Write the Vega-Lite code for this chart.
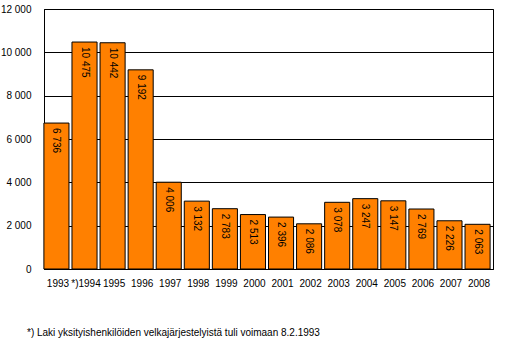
{
  "$schema": "https://vega.github.io/schema/vega-lite/v6.json",
  "width": 449,
  "height": 260,
  "autosize": {"type": "none"},
  "padding": {"left": 44, "top": 9, "right": 26, "bottom": 85},
  "background": "white",
  "config": {
    "font": "Liberation Sans",
    "locale": {"number": {"decimal": ",", "thousands": " ", "grouping": [3], "currency": ["", " €"]}},
    "view": {"stroke": "black", "strokeWidth": 1},
    "axis": {"labelFont": "Liberation Sans", "labelFontSize": 10, "labelColor": "black", "domainColor": "black", "ticks": false}
  },
  "title": {
    "text": "*) Laki yksityishenkilöiden velkajärjestelyistä tuli voimaan 8.2.1993",
    "orient": "bottom",
    "anchor": "start",
    "frame": "group",
    "dx": -17,
    "offset": 40,
    "fontSize": 10,
    "fontWeight": "normal",
    "font": "Liberation Sans",
    "color": "black"
  },
  "data": {
    "values": [
      {"year": "1993", "value": 6736},
      {"year": "1994", "value": 10475},
      {"year": "1995", "value": 10442},
      {"year": "1996", "value": 9192},
      {"year": "1997", "value": 4006},
      {"year": "1998", "value": 3132},
      {"year": "1999", "value": 2783},
      {"year": "2000", "value": 2513},
      {"year": "2001", "value": 2396},
      {"year": "2002", "value": 2086},
      {"year": "2003", "value": 3078},
      {"year": "2004", "value": 3247},
      {"year": "2005", "value": 3147},
      {"year": "2006", "value": 2769},
      {"year": "2007", "value": 2226},
      {"year": "2008", "value": 2063}
    ]
  },
  "encoding": {
    "x": {
      "field": "year",
      "type": "ordinal",
      "sort": null,
      "scale": {"paddingInner": 0.107, "paddingOuter": 0.05},
      "axis": {
        "title": null,
        "labelAngle": 0,
        "labelPadding": 9,
        "domainColor": "black",
        "labelExpr": "datum.value == '1994' ? '*)1994' : datum.label"
      }
    },
    "y": {
      "field": "value",
      "type": "quantitative",
      "scale": {"domain": [0, 12000], "nice": false},
      "axis": {
        "title": null,
        "values": [0, 2000, 4000, 6000, 8000, 10000, 12000],
        "format": ",d",
        "grid": true,
        "gridColor": "black",
        "gridOpacity": 1,
        "labelPadding": 13
      }
    }
  },
  "layer": [
    {
      "mark": {"type": "bar", "color": "#FF8000", "stroke": "black", "strokeWidth": 1, "xOffset": -1.5}
    },
    {
      "mark": {"type": "text", "angle": 90, "align": "left", "baseline": "middle", "dx": 5, "xOffset": -1.5, "fontSize": 10, "color": "black", "font": "Liberation Sans"},
      "encoding": {
        "text": {"field": "value", "type": "quantitative", "format": ",d"}
      }
    }
  ]
}
